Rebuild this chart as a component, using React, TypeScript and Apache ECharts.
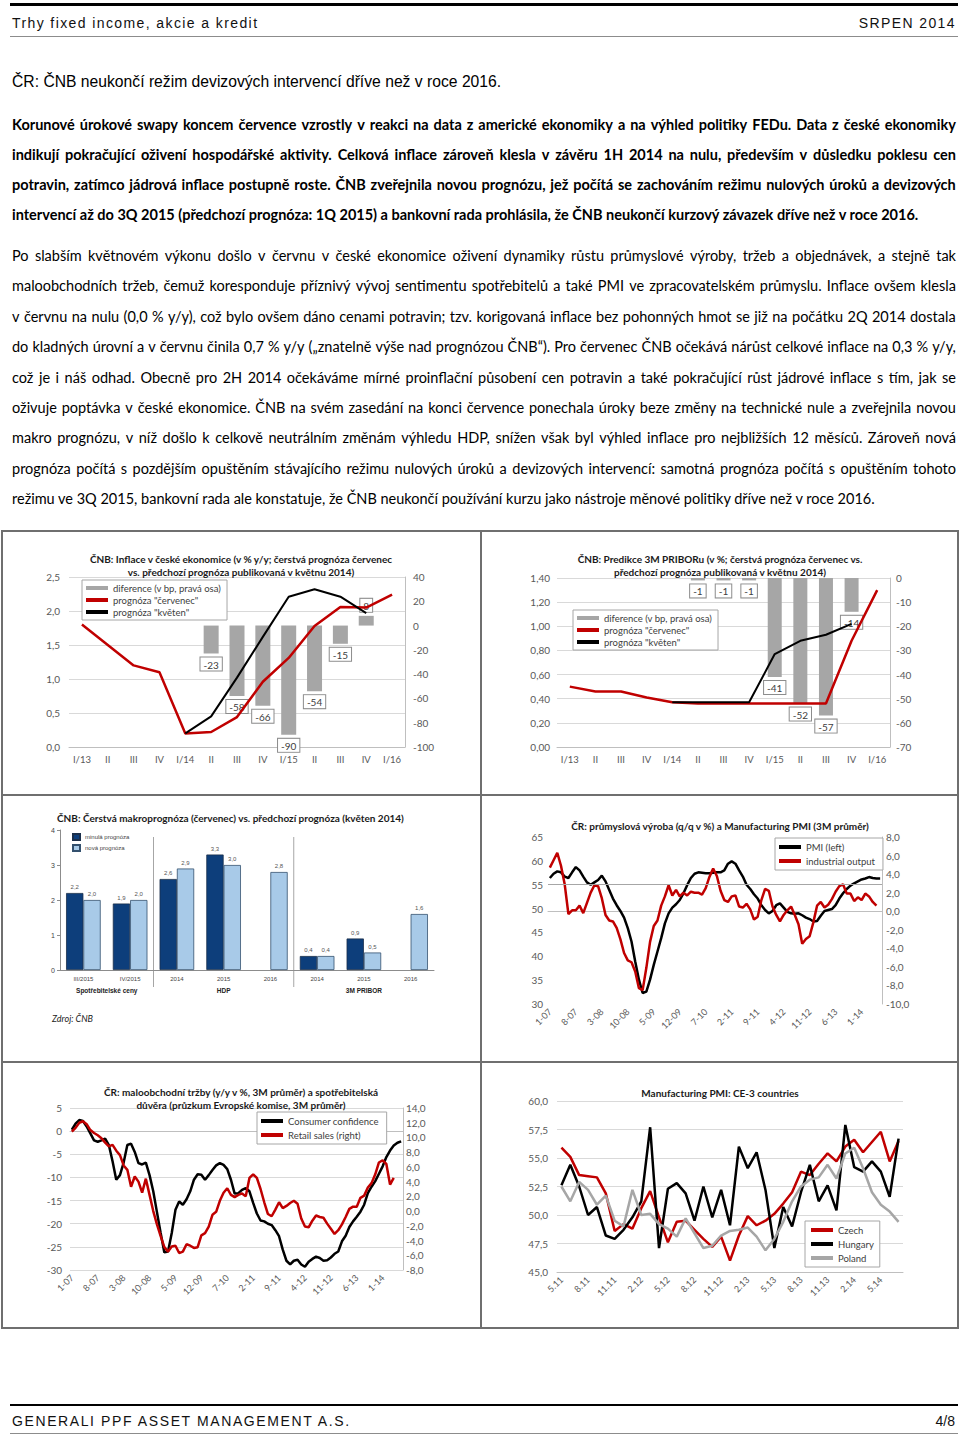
import React, { useEffect, useRef } from "react";
import * as echarts from "echarts";

const CAL = "Lato, 'Open Sans', sans-serif";
const ARIAL = "'Liberation Sans', Arial, sans-serif";
const NARROW = "'Liberation Sans Narrow', 'Arial Narrow', 'Liberation Sans', sans-serif";
const TICK = "#595959";
const RED = "#c00000";

// ---------- chart 1: inflation ----------
const quarterLabels = ["I/13", "II", "III", "IV", "I/14", "II", "III", "IV", "I/15", "II", "III", "IV", "I/16"];
const inflJuly = [1.8, 1.5, 1.2, 1.1, 0.2, 0.22, 0.44, 0.96, 1.31, 1.78, 2.06, 2.05, 2.24];
const inflMay = [null, null, null, null, 0.2, 0.45, 1.02, 1.62, 2.21, 2.32, 2.21, 1.97, null];
const inflDiff = [null, null, null, null, null, -23, -58, -66, -90, -54, -15, 8, null];

// ---------- chart 2: 3M PRIBOR ----------
const priborJuly = [0.5, 0.46, 0.46, 0.41, 0.37, 0.36, 0.36, 0.36, 0.36, 0.36, 0.36, 0.88, 1.3];
const priborMay = [null, null, null, null, 0.37, 0.37, 0.37, 0.37, 0.77, 0.88, 0.93, 1.02, null];
const priborDiff = [null, null, null, null, null, -1, -1, -1, -41, -52, -57, -14, null];

// ---------- chart 3: macro forecast ----------
const macroLabels = ["III/2015", "IV/2015", "2014", "2015", "2016", "2014", "2015", "2016"];
const macroGroups = ["Spotřebitelské ceny", "HDP", "3M PRIBOR"];
const macroGroupSpans = [[0, 1], [2, 4], [5, 7]];
const macroOld = [2.2, 1.9, 2.6, 3.3, null, 0.4, 0.9, null];
const macroNew = [2.0, 2.0, 2.9, 3.0, 2.8, 0.4, 0.5, 1.6];

function monthLabels(m0: number, y0: number, n: number, sep: string) {
  const out: string[] = [];
  let m = m0, y = y0;
  for (let i = 0; i < n; i++) {
    out.push(m + sep + String(y).padStart(2, "0"));
    m++;
    if (m > 12) { m = 1; y++; }
  }
  return out;
}

// ---------- chart 4: PMI vs industrial output ----------
const ipMonths = monthLabels(1, 7, 90, "-");
const pmiCzAvg = [56.4, 57.3, 57.8, 57.6, 56.7, 56.4, 57.6, 58.7, 58.0, 56.7,
  55.5, 55.0, 55.5, 56.0, 56.9, 55.7, 53.9, 52.1, 50.7, 49.5,
  48.1, 45.9, 43.1, 38.9, 35.1, 32.3, 32.6, 35.1, 38.2, 41.0,
  43.8, 46.9, 49.0, 50.2, 50.9, 51.8, 53.2, 54.9, 56.4, 57.3,
  57.6, 57.5, 57.4, 57.4, 57.5, 57.6, 57.6, 58.0, 59.4, 59.9,
  59.4, 58.0, 56.7, 55.0, 54.1, 53.0, 52.1, 50.7, 49.7, 49.0,
  49.5, 50.7, 51.1, 50.2, 49.3, 49.0, 48.9, 49.0, 48.6, 48.1,
  47.8, 47.3, 47.4, 48.5, 49.5, 49.7, 49.9, 50.7, 52.1, 53.2,
  54.1, 54.8, 55.3, 55.7, 56.1, 56.3, 56.6, 56.4, 56.3, 56.3];
const indOutput = [4.7, 5.5, 6.3, 4.9, 2.9, -0.3, 0.1, 0.1, 0.6, -0.2,
  0.9, 2.0, 2.8, 2.7, 1.4, -0.4, -1.0, -1.1, -1.8, -3.0,
  -4.5, -5.3, -5.5, -6.5, -8.3, -8.5, -6.1, -3.3, -1.6, -1.0,
  0.6, 1.6, 2.8, 1.7, 2.3, 1.6, 2.0, 1.7, 2.1, 2.0,
  2.0, 1.8, 2.5, 3.7, 4.6, 3.8, 2.2, 1.2, 1.0, 1.6,
  1.7, 0.5, 0.4, 0.8, 0.2, -0.9, -0.6, 1.2, 2.4, 2.2,
  0.5, -0.4, -1.1, -0.4, 0.1, 0.5, -0.4, -1.4, -3.5, -3.0,
  -2.7, -1.2, 0.6, 1.0, 0.4, 0.7, 1.3, 2.1, 2.7, 2.9,
  1.9, 1.9, 1.1, 1.5, 1.2, 1.9, 1.6, 1.0, 0.6];

// ---------- chart 5: retail sales vs consumer confidence ----------
const retailMonths = monthLabels(1, 7, 90, "-");
const consConf = [0.3, 1.6, 2.4, 2.2, 1.0, -0.5, -2.0, -2.3, -2.0, -1.6,
  -3.0, -6.5, -10.5, -9.5, -6.8, -3.0, -2.7, -4.5, -6.9, -7.2,
  -6.8, -9.5, -13.0, -17.5, -22.0, -26.2, -26.0, -22.0, -17.0, -15.2,
  -15.9, -14.7, -13.0, -10.5, -9.3, -9.4, -10.5, -9.5, -8.4, -7.4,
  -6.9, -7.3, -8.2, -10.5, -13.5, -13.4, -12.7, -12.3, -13.0, -15.5,
  -17.8, -19.3, -19.5, -20.0, -20.3, -21.4, -22.7, -25.6, -28.0, -28.8,
  -28.0, -27.8, -28.8, -29.3, -28.2, -27.6, -27.1, -27.4, -28.0, -27.9,
  -27.3, -26.5, -26.0, -23.8, -22.6, -20.7, -19.5, -18.5, -17.4, -15.9,
  -13.4, -12.0, -10.8, -9.2, -7.6, -5.6, -4.2, -3.1, -2.5, -2.2];
const retailSales = [10.8, 11.3, 12.0, 12.2, 11.8, 11.0, 10.6, 10.3, 9.9, 9.3,
  8.8, 9.0, 8.2, 7.6, 6.2, 5.6, 3.3, 4.7, 4.0, 2.5,
  4.4, 2.2, 0.0, -1.8, -3.4, -4.9, -5.5, -4.8, -4.7, -5.7,
  -5.5, -4.5, -4.7, -5.0, -4.9, -3.3, -3.0, -2.1, -0.5, -0.1,
  1.4, 2.5, 3.1, 2.2, 1.9, 2.2, 2.4, 2.0, 4.5, 5.0,
  4.5, 3.0, 1.2, -0.4, -0.7, 0.2, 1.2, 0.4, 0.7, 1.1,
  1.4, 1.0, -1.0, -2.1, -2.2, -1.3, -0.6, -0.8, -0.9, -1.7,
  -2.4, -3.1, -2.6, -1.8, -0.8, 0.3, 0.6, 0.6, 1.8, 2.1,
  3.2, 3.8, 5.0, 6.6, 6.9, 6.4, 3.6, 4.5];

// ---------- chart 6: CE-3 PMI ----------
const ce3Months = monthLabels(5, 11, 39, ".");
const pmiCzech = [55.9, 55.1, 53.5, 53.4, 53.3, 51.9, 48.6, 49.2, 48.8, 50.6,
  52.1, 49.8, 47.6, 49.4, 49.5, 48.7, 47.9, 47.2, 48.1, 46.0,
  48.2, 49.9, 49.1, 49.5, 50.1, 51.0, 52.0, 53.8, 53.5, 54.5,
  55.4, 54.7, 56.0, 56.6, 55.5, 56.4, 57.3, 54.7, 56.5];
const pmiHungary = [52.6, 54.4, 52.5, 50.0, 50.7, 48.2, 47.9, 48.7, 49.8, 51.2,
  57.7, 47.1, 52.3, 52.8, 51.9, 49.5, 52.5, 49.8, 52.2, 49.1,
  56.0, 54.1, 55.5, 52.2, 47.1, 50.7, 49.0, 52.0, 54.4, 51.2,
  52.6, 50.4, 57.9, 54.2, 53.8, 54.7, 53.8, 51.6, 56.7];
const pmiPoland = [52.5, 51.2, 52.9, 52.2, 50.9, 51.7, 49.5, 49.0, 52.2, 50.0,
  50.1, 49.2, 48.8, 48.1, 49.7, 48.4, 47.1, 47.3, 48.2, 48.6,
  48.7, 48.9, 48.1, 46.9, 47.9, 49.4, 51.2, 52.5, 53.1, 53.3,
  54.4, 53.2, 55.4, 55.9, 54.1, 52.0, 50.9, 50.3, 49.4];

// ---------- texts ----------
const boldLines = [
  "Korunové úrokové swapy koncem července vzrostly v reakci na data z americké ekonomiky a na výhled politiky FEDu. Data z české ekonomiky",
  "indikují pokračující oživení hospodářské aktivity. Celková inflace zároveň klesla v závěru 1H 2014 na nulu, především v důsledku poklesu cen",
  "potravin, zatímco jádrová inflace postupně roste. ČNB zveřejnila novou prognózu, jež počítá se zachováním režimu nulových úroků a devizových",
  "intervencí až do 3Q 2015 (předchozí prognóza: 1Q 2015) a bankovní rada prohlásila, že ČNB neukončí kurzový závazek dříve než v roce 2016.",
];
const bodyLines = [
  "Po slabším květnovém výkonu došlo v červnu v české ekonomice oživení dynamiky růstu průmyslové výroby, tržeb a objednávek, a stejně tak",
  "maloobchodních tržeb, čemuž koresponduje příznivý vývoj sentimentu spotřebitelů a také PMI ve zpracovatelském průmyslu. Inflace ovšem klesla",
  "v červnu na nulu (0,0 % y/y), což bylo ovšem dáno cenami potravin; tzv. korigovaná inflace bez pohonných hmot se již na počátku 2Q 2014 dostala",
  "do kladných úrovní a v červnu činila 0,7 % y/y („znatelně výše nad prognózou ČNB“). Pro červenec ČNB očekává nárůst celkové inflace na 0,3 % y/y,",
  "což je i náš odhad. Obecně pro 2H 2014 očekáváme mírné proinflační působení cen potravin a také pokračující růst jádrové inflace s tím, jak se",
  "oživuje poptávka v české ekonomice. ČNB na svém zasedání na konci července ponechala úroky beze změny na technické nule a zveřejnila novou",
  "makro prognózu, v níž došlo k celkově neutrálním změnám výhledu HDP, snížen však byl výhled inflace pro nejbližších 12 měsíců. Zároveň nová",
  "prognóza počítá s pozdějším opuštěním stávajícího režimu nulových úroků a devizových intervencí: samotná prognóza počítá s opuštěním tohoto",
  "režimu ve 3Q 2015, bankovní rada ale konstatuje, že ČNB neukončí používání kurzu jako nástroje měnové politiky dříve než v roce 2016.",
];

const cz = (d: number) => (v: number) => v.toFixed(d).replace(".", ",");

const titleStyle = { fontFamily: CAL, fontSize: 10, fontWeight: "bold", color: "#1a1a1a", lineHeight: 13 };
const legendBox = {
  orient: "vertical", backgroundColor: "#fff", borderColor: "#a6a6a6", borderWidth: 1,
  padding: [3, 6, 3, 4], itemGap: 2, itemWidth: 22, itemHeight: 4, icon: "rect",
  textStyle: { fontFamily: CAL, fontSize: 9.5, color: "#404040" },
};
const valAxisLabel = (fmt: any, margin: number) => ({ fontFamily: CAL, fontSize: 10, color: TICK, margin, formatter: fmt });
const diffLabel = {
  show: true, fontFamily: CAL, fontSize: 10, color: "#404040", backgroundColor: "#fff",
  borderColor: "#8c8c8c", borderWidth: 1, padding: [2, 3, 1, 3], distance: 4,
};
const diffData = (arr: (number | null)[]) =>
  arr.map((v) => (v == null ? "-" : { value: v, label: { position: v < 0 ? "bottom" : "top" } }));

const quarterAxis = {
  type: "category", data: quarterLabels,
  axisLine: { lineStyle: { color: "#bfbfbf" } }, axisTick: { show: false },
  axisLabel: { fontFamily: CAL, fontSize: 9.5, color: TICK, margin: 7, interval: 0 },
};

const opt1 = {
  animation: false,
  title: { text: "ČNB: Inflace v české ekonomice (v % y/y; čerstvá prognóza červenec\nvs. předchozí prognóza publikovaná v květnu 2014)", left: "center", top: 16, textStyle: titleStyle },
  legend: { ...legendBox, left: 80, top: 49, data: ["diference (v bp, pravá osa)", "prognóza \"červenec\"", "prognóza \"květen\""] },
  grid: { left: 67, top: 46, width: 336, height: 170 },
  xAxis: quarterAxis,
  yAxis: [
    { type: "value", min: 0, max: 2.5, interval: 0.5, axisLabel: valAxisLabel(cz(1), 9), splitLine: { lineStyle: { color: "#d9d9d9" } }, axisLine: { show: false } },
    { type: "value", min: -100, max: 40, interval: 20, position: "right", axisLabel: valAxisLabel(undefined, 8), splitLine: { show: false }, axisLine: { show: true, lineStyle: { color: "#bfbfbf" } } },
  ],
  series: [
    { name: "diference (v bp, pravá osa)", type: "bar", yAxisIndex: 1, barWidth: 15, data: diffData(inflDiff), itemStyle: { color: "#a6a6a6" }, label: diffLabel },
    { name: "prognóza \"červenec\"", type: "line", data: inflJuly, symbol: "none", lineStyle: { color: RED, width: 2.5 }, itemStyle: { color: RED } },
    { name: "prognóza \"květen\"", type: "line", data: inflMay, symbol: "none", lineStyle: { color: "#000", width: 2 }, itemStyle: { color: "#000" } },
  ],
};

const opt2 = {
  animation: false,
  title: { text: "ČNB: Predikce 3M PRIBORu (v %; čerstvá prognóza červenec vs.\npředchozí prognóza publikovaná v květnu 2014)", left: "center", top: 16, textStyle: titleStyle },
  legend: { ...legendBox, left: 91, top: 79, data: ["diference (v bp, pravá osa)", "prognóza \"červenec\"", "prognóza \"květen\""] },
  grid: { left: 75, top: 47, width: 333, height: 169 },
  xAxis: quarterAxis,
  yAxis: [
    { type: "value", min: 0, max: 1.4, interval: 0.2, axisLabel: valAxisLabel(cz(2), 7), splitLine: { lineStyle: { color: "#d9d9d9" } }, axisLine: { show: false } },
    { type: "value", min: -70, max: 0, interval: 10, position: "right", axisLabel: valAxisLabel(undefined, 6), splitLine: { show: false }, axisLine: { show: true, lineStyle: { color: "#bfbfbf" } } },
  ],
  series: [
    { name: "diference (v bp, pravá osa)", type: "bar", yAxisIndex: 1, barWidth: 14, data: diffData(priborDiff), itemStyle: { color: "#a6a6a6" }, label: diffLabel },
    { name: "prognóza \"červenec\"", type: "line", data: priborJuly, symbol: "none", lineStyle: { color: RED, width: 2.5 }, itemStyle: { color: RED } },
    { name: "prognóza \"květen\"", type: "line", data: priborMay, symbol: "none", lineStyle: { color: "#000", width: 2 }, itemStyle: { color: "#000" } },
  ],
};

const macroBarLabel = { show: true, position: "top", distance: 3, fontFamily: ARIAL, fontSize: 6, color: "#555", formatter: (p: any) => cz(1)(p.value) };
const opt3 = {
  animation: false,
  title: { text: "ČNB: Čerstvá makroprognóza (červenec) vs. předchozí prognóza (květen 2014)", left: 50, top: 10, textStyle: titleStyle },
  legend: { orient: "vertical", left: 70, top: 37, padding: 0, itemGap: 3, itemWidth: 7, itemHeight: 6, icon: "rect", textStyle: { fontFamily: ARIAL, fontSize: 6, color: "#444" }, data: ["minulá prognóza", "nová prognóza"] },
  grid: { left: 58, top: 34, width: 374, height: 140 },
  xAxis: { type: "category", data: macroLabels, axisTick: { show: false }, axisLine: { lineStyle: { color: "#8c8c8c" } }, axisLabel: { fontFamily: ARIAL, fontSize: 6, color: "#444", margin: 6, interval: 0 } },
  yAxis: { type: "value", min: 0, max: 4, interval: 1, splitLine: { show: false }, axisLine: { show: true, lineStyle: { color: "#8c8c8c" } }, axisTick: { show: true, length: 3, lineStyle: { color: "#8c8c8c" } }, axisLabel: { fontFamily: ARIAL, fontSize: 7, color: "#444", margin: 5 } },
  series: [
    { name: "minulá prognóza", type: "bar", data: macroOld.map((v) => (v == null ? "-" : v)), barGap: "0%", barCategoryGap: "26%", itemStyle: { color: "#0d3e7b", borderColor: "#1b2f4a", borderWidth: 0.8 }, label: macroBarLabel },
    { name: "nová prognóza", type: "bar", data: macroNew, itemStyle: { color: "#a8cae8", borderColor: "#33506e", borderWidth: 0.8 }, label: macroBarLabel },
  ],
};

function decorateMacro(chart: any) {
  const xAt = (i: number) => chart.convertToPixel({ xAxisIndex: 0 }, i);
  const yTop = chart.convertToPixel({ yAxisIndex: 0 }, 4);
  const yBase = chart.convertToPixel({ yAxisIndex: 0 }, 0);
  const g: any[] = [];
  macroGroupSpans.forEach(([a, b], gi) => {
    g.push({ type: "text", id: "grp" + gi, x: (xAt(a) + xAt(b)) / 2, y: yBase + 20, style: { text: macroGroups[gi], fontFamily: ARIAL, fontSize: 6.5, fontWeight: "bold", fill: "#222", align: "center", verticalAlign: "middle" } });
    if (gi > 0) {
      const sx = (xAt(a - 1) + xAt(a)) / 2;
      g.push({ type: "line", id: "sep" + gi, shape: { x1: sx, y1: yTop + 7, x2: sx, y2: yBase + 17 }, style: { stroke: "#a6a6a6", lineWidth: 1 } });
    }
  });
  g.push({ type: "text", id: "src", x: 50, y: yBase + 48, style: { text: "Zdroj: ČNB", fontFamily: CAL, fontSize: 9, fontStyle: "italic", fill: "#222", align: "left", verticalAlign: "middle" } });
  chart.setOption({ graphic: g });
}

const monthAxis = (data: string[], interval: number) => ({
  type: "category", data, boundaryGap: true,
  axisLine: { lineStyle: { color: "#bfbfbf" } }, axisTick: { show: false },
  axisLabel: { fontFamily: CAL, fontSize: 9, color: TICK, rotate: 45, interval, margin: 6 },
});

const opt4 = {
  animation: false,
  title: { text: "ČR: průmyslová výroba (q/q v %) a Manufacturing PMI (3M průměr)", left: "center", top: 18, textStyle: titleStyle },
  legend: { ...legendBox, left: 293, top: 42, padding: [4, 8, 4, 4], itemGap: 4, data: ["PMI (left)", "industrial output"] },
  grid: { left: 66, top: 41, width: 334, height: 167 },
  xAxis: monthAxis(ipMonths, 6),
  yAxis: [
    { type: "value", min: 30, max: 65, interval: 5, axisLabel: valAxisLabel(undefined, 5), splitLine: { show: false }, axisLine: { show: false } },
    { type: "value", min: -10, max: 8, interval: 2, position: "right", axisLabel: valAxisLabel(cz(1), 4), splitLine: { show: false }, axisLine: { show: true, lineStyle: { color: "#bfbfbf" } } },
  ],
  series: [
    { name: "PMI (left)", type: "line", data: pmiCzAvg, symbol: "none", lineStyle: { color: "#000", width: 2.5 }, itemStyle: { color: "#000" },
      markLine: { silent: true, symbol: "none", label: { show: false }, lineStyle: { color: "#a6a6a6", width: 1, type: "solid" }, data: [{ yAxis: 55 }] } },
    { name: "industrial output", type: "line", yAxisIndex: 1, data: indOutput, symbol: "none", lineStyle: { color: RED, width: 2.5 }, itemStyle: { color: RED } },
  ],
};

const opt5 = {
  animation: false,
  title: { text: "ČR: maloobchodní tržby (y/y v %, 3M průměr) a spotřebitelská\ndůvěra (průzkum Evropské komise, 3M průměr)", left: "center", top: 17, textStyle: titleStyle },
  legend: { ...legendBox, left: 255, top: 49, padding: [4, 8, 4, 4], itemGap: 4, data: ["Consumer confidence", "Retail sales (right)"] },
  grid: { left: 68, top: 45, width: 333, height: 162 },
  xAxis: monthAxis(retailMonths, 6),
  yAxis: [
    { type: "value", min: -30, max: 5, interval: 5, axisLabel: valAxisLabel(undefined, 8), splitLine: { lineStyle: { color: "#d9d9d9" } }, axisLine: { show: false } },
    { type: "value", min: -8, max: 14, interval: 2, position: "right", axisLabel: valAxisLabel(cz(1), 3), splitLine: { show: false }, axisLine: { show: true, lineStyle: { color: "#bfbfbf" } } },
  ],
  series: [
    { name: "Consumer confidence", type: "line", data: consConf, symbol: "none", lineStyle: { color: "#000", width: 2.5 }, itemStyle: { color: "#000" } },
    { name: "Retail sales (right)", type: "line", yAxisIndex: 1, data: retailSales, symbol: "none", lineStyle: { color: RED, width: 2.5 }, itemStyle: { color: RED } },
  ],
};

const opt6 = {
  animation: false,
  title: { text: "Manufacturing PMI: CE-3 countries", left: "center", top: 18, textStyle: titleStyle },
  legend: { ...legendBox, left: 323, top: 158, padding: [4, 6, 4, 6], itemGap: 4, data: ["Czech", "Hungary", "Poland"] },
  grid: { left: 75, top: 38, width: 346, height: 171 },
  xAxis: monthAxis(ce3Months, 2),
  yAxis: { type: "value", min: 45, max: 60, interval: 2.5, axisLabel: valAxisLabel(cz(1), 9), splitLine: { lineStyle: { color: "#d9d9d9" } }, axisLine: { show: false } },
  series: [
    { name: "Czech", type: "line", data: pmiCzech, symbol: "none", lineStyle: { color: RED, width: 2.5 }, itemStyle: { color: RED } },
    { name: "Hungary", type: "line", data: pmiHungary, symbol: "none", lineStyle: { color: "#000", width: 2.5 }, itemStyle: { color: "#000" } },
    { name: "Poland", type: "line", data: pmiPoland, symbol: "none", lineStyle: { color: "#a6a6a6", width: 2.5 }, itemStyle: { color: "#a6a6a6" } },
  ],
};

function EChart({ option, box, onReady }: any) {
  const ref = useRef<HTMLDivElement>(null);
  useEffect(() => {
    const chart = echarts.init(ref.current as HTMLDivElement, undefined, { renderer: "svg" });
    chart.setOption(option);
    if (onReady) onReady(chart);
    return () => chart.dispose();
  }, []);
  return <div ref={ref} style={{ position: "absolute", left: box[0], top: box[1], width: box[2], height: box[3] }} />;
}

function JLine({ text, top, bold, last }: any) {
  const base: any = {
    position: "absolute", left: 12, top, width: 944, height: 30, lineHeight: "30px",
    fontFamily: CAL, fontSize: 14.5, fontWeight: bold ? 700 : 400, color: "#000", whiteSpace: "nowrap",
  };
  if (last) return <div style={base}>{text}</div>;
  return (
    <div style={{ ...base, display: "flex", justifyContent: "space-between" }}>
      {text.split(" ").map((w: string, i: number) => <span key={i}>{w}</span>)}
    </div>
  );
}

function HLine({ top, h, color, left = 10, width = 948 }: any) {
  return <div style={{ position: "absolute", left, top, width, height: h, background: color }} />;
}

export default function App() {
  const border = "#6f6f6f";
  return (
    <div style={{ position: "absolute", left: 0, top: 0, width: 960, height: 1440, background: "#fff", overflow: "hidden" }}>
      <HLine top={3} h={3} color="#000" />
      <div style={{ position: "absolute", left: 12, top: 15, lineHeight: "16px", fontFamily: ARIAL, fontSize: 14, letterSpacing: 1.4, color: "#111" }}>Trhy fixed income, akcie a kredit</div>
      <div style={{ position: "absolute", right: 4, top: 15, lineHeight: "16px", fontFamily: ARIAL, fontSize: 14, letterSpacing: 1.4, color: "#111" }}>SRPEN 2014</div>
      <HLine top={36} h={1} color="#8c8c8c" />
      <div style={{ position: "absolute", left: 12, top: 73, lineHeight: "18px", fontFamily: NARROW, fontSize: 15.7, color: "#000" }}>ČR: ČNB neukončí režim devizových intervencí dříve než v roce 2016.</div>

      {boldLines.map((t, i) => <JLine key={"b" + i} text={t} top={110 + i * 30} bold last={i === boldLines.length - 1} />)}
      {bodyLines.map((t, i) => <JLine key={"p" + i} text={t} top={241 + i * 30.4} last={i === bodyLines.length - 1} />)}

      <EChart option={opt1} box={[2, 531, 478, 262]} />
      <EChart option={opt2} box={[482, 531, 476, 262]} />
      <EChart option={opt3} box={[2, 796, 478, 265]} onReady={decorateMacro} />
      <EChart option={opt4} box={[482, 796, 476, 265]} />
      <EChart option={opt5} box={[2, 1063, 478, 264]} />
      <EChart option={opt6} box={[482, 1063, 476, 264]} />

      <HLine top={530} h={2} color={border} left={2} width={956} />
      <HLine top={794} h={2} color={border} left={2} width={956} />
      <HLine top={1061} h={2} color={border} left={2} width={956} />
      <HLine top={1327} h={2} color={border} left={2} width={956} />
      <div style={{ position: "absolute", left: 1, top: 530, width: 2, height: 799, background: border }} />
      <div style={{ position: "absolute", left: 480, top: 530, width: 2, height: 799, background: border }} />
      <div style={{ position: "absolute", left: 957, top: 530, width: 2, height: 799, background: border }} />

      <HLine top={1404} h={2} color="#000" />
      <div style={{ position: "absolute", left: 12, top: 1413, lineHeight: "16px", fontFamily: ARIAL, fontSize: 14, letterSpacing: 1.6, color: "#111" }}>GENERALI PPF ASSET MANAGEMENT A.S.</div>
      <div style={{ position: "absolute", right: 5, top: 1413, lineHeight: "16px", fontFamily: NARROW, fontSize: 14, color: "#111" }}>4/8</div>
      <HLine top={1433} h={1} color="#8c8c8c" />
    </div>
  );
}
